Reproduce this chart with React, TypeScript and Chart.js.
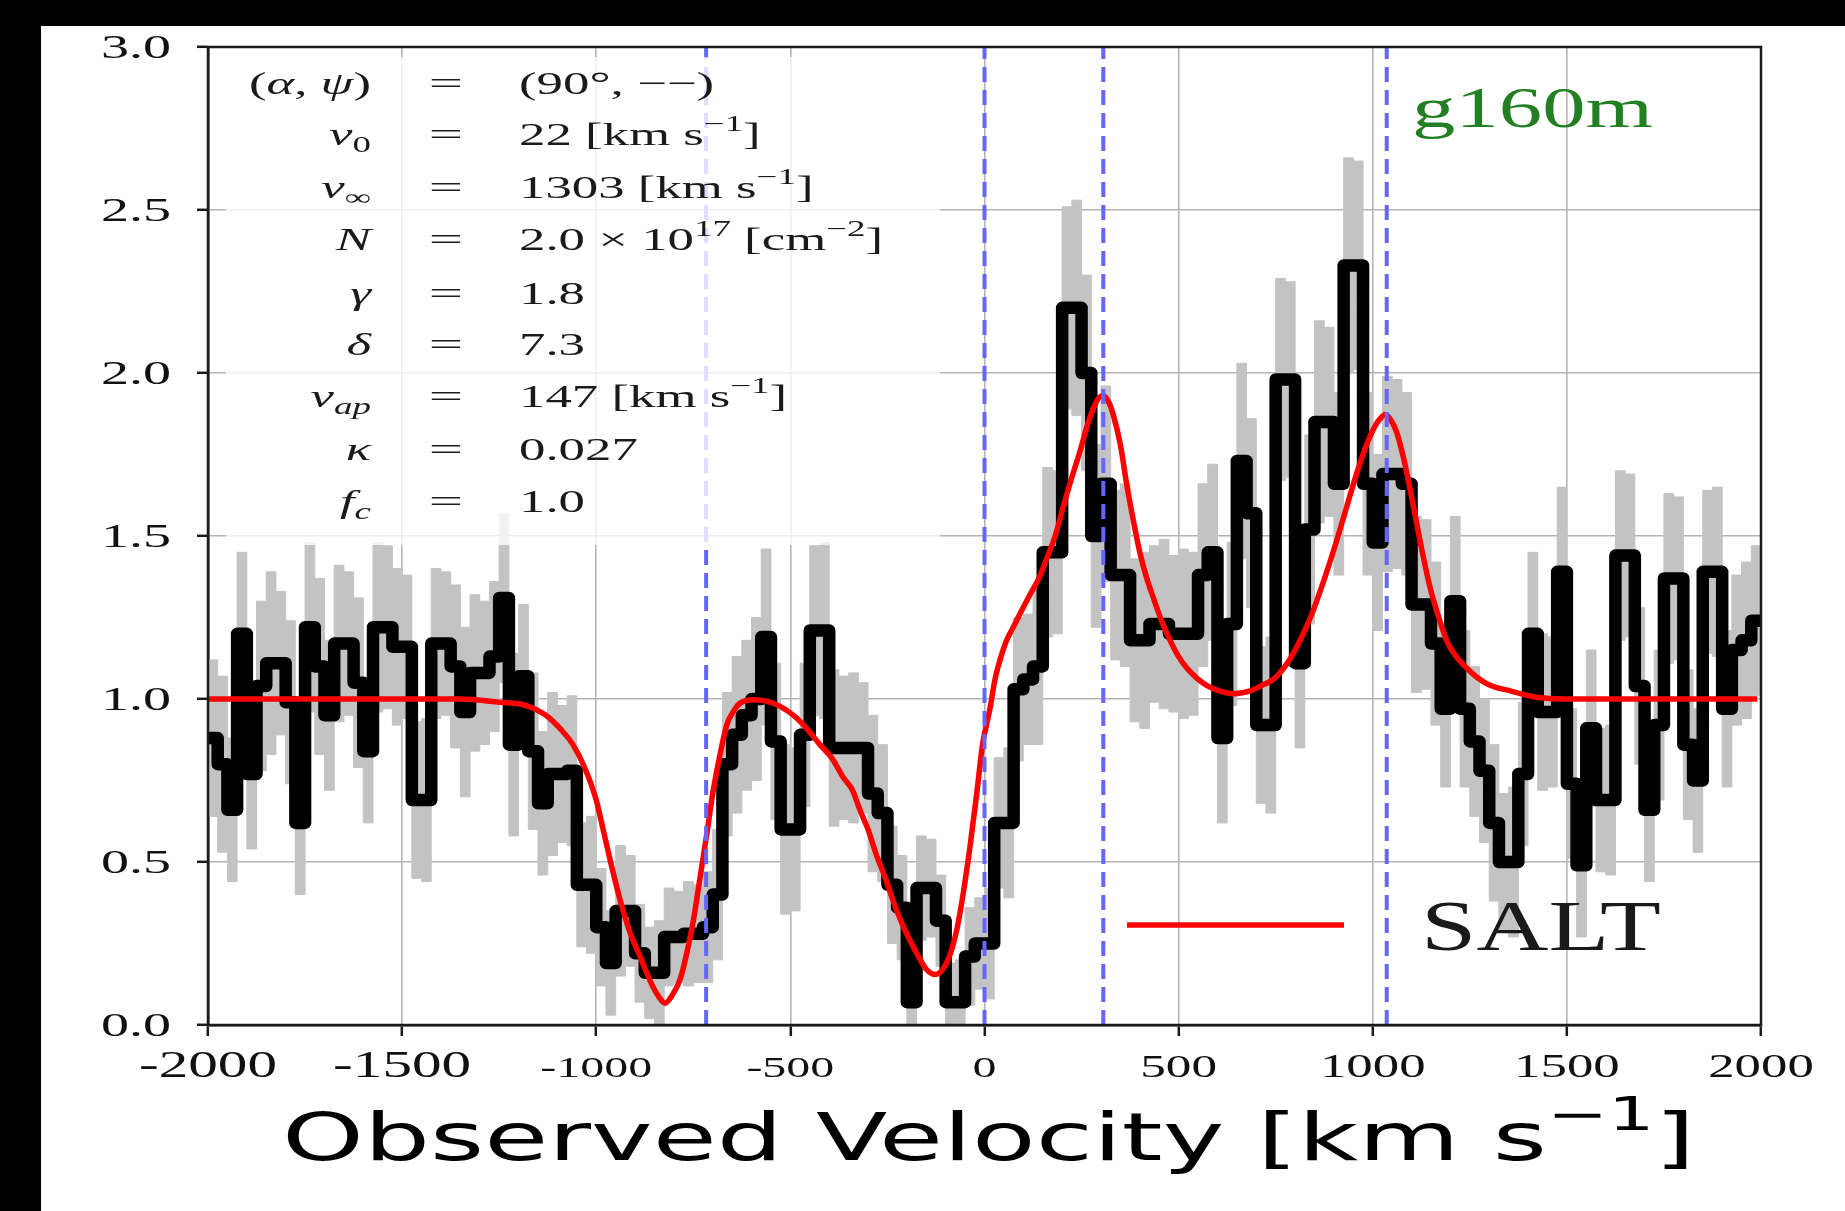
import React, { useEffect, useRef } from 'react';
import { Chart, registerables } from 'chart.js';

Chart.register(...registerables);

// ---------------- data ----------------
const BIN_START = -2000; // km/s, left edge of first bin
const BIN_WIDTH = 25; // km/s

// observed normalised flux per velocity bin (black step line)
const flux = [
  0.88, 0.80, 0.66, 1.20, 0.77, 1.04, 1.11, 1.11, 0.99, 0.62,
  1.22, 1.10, 0.95, 1.17, 1.17, 1.05, 0.84, 1.22, 1.22, 1.16,
  1.16, 0.69, 0.69, 1.17, 1.17, 1.10, 0.96, 1.08, 1.08, 1.13,
  1.31, 0.86, 1.07, 0.84, 0.68, 0.77, 0.77, 0.78, 0.43, 0.43,
  0.30, 0.19, 0.35, 0.35, 0.22, 0.16, 0.16, 0.27, 0.27, 0.28,
  0.28, 0.30, 0.40, 0.80, 0.89, 0.95, 1.00, 1.19, 0.87, 0.60,
  0.60, 0.89, 1.21, 1.21, 0.85, 0.85, 0.85, 0.85, 0.71, 0.65,
  0.43, 0.36, 0.07, 0.42, 0.42, 0.32, 0.07, 0.07, 0.21, 0.25,
  0.25, 0.62, 0.62, 1.03, 1.06, 1.10, 1.45, 1.45, 2.20, 2.20,
  2.00, 1.50, 1.66, 1.38, 1.38, 1.18, 1.18, 1.23, 1.23, 1.20,
  1.20, 1.20, 1.38, 1.45, 0.88, 1.23, 1.73, 1.57, 0.92, 0.92,
  1.98, 1.98, 1.11, 1.52, 1.85, 1.85, 1.66, 2.33, 2.33, 1.66,
  1.48, 1.69, 1.69, 1.66, 1.29, 1.29, 1.17, 0.97, 1.30, 0.97,
  0.87, 0.78, 0.62, 0.50, 0.50, 0.77, 1.20, 0.96, 0.96, 1.39,
  0.74, 0.49, 0.91, 0.69, 0.69, 1.44, 1.44, 1.04, 0.66, 0.92,
  1.37, 1.37, 0.86, 0.75, 1.39, 1.39, 0.97, 1.15, 1.18, 1.24,
];

// 1-sigma flux uncertainty per bin (grey band)
const fluxErr = [
  0.24, 0.27, 0.22, 0.25, 0.23, 0.26, 0.28, 0.22, 0.25, 0.22,
  0.26, 0.27, 0.23, 0.24, 0.22, 0.26, 0.22, 0.26, 0.25, 0.24,
  0.22, 0.24, 0.25, 0.23, 0.22, 0.25, 0.26, 0.24, 0.22, 0.23,
  0.26, 0.28, 0.22, 0.24, 0.22, 0.25, 0.21, 0.23, 0.19, 0.21,
  0.18, 0.16, 0.20, 0.17, 0.15, 0.14, 0.16, 0.15, 0.14, 0.16,
  0.15, 0.17, 0.20, 0.22, 0.24, 0.23, 0.25, 0.27, 0.24, 0.26,
  0.25, 0.22, 0.26, 0.27, 0.24, 0.22, 0.23, 0.20, 0.24, 0.21,
  0.18, 0.16, 0.12, 0.16, 0.15, 0.14, 0.12, 0.13, 0.15, 0.14,
  0.17, 0.20, 0.23, 0.22, 0.20, 0.24, 0.26, 0.25, 0.31, 0.33,
  0.30, 0.28, 0.30, 0.26, 0.28, 0.25, 0.27, 0.24, 0.26, 0.24,
  0.26, 0.25, 0.28, 0.27, 0.26, 0.25, 0.30, 0.29, 0.24, 0.27,
  0.31, 0.30, 0.26, 0.29, 0.31, 0.29, 0.28, 0.33, 0.32, 0.28,
  0.27, 0.30, 0.29, 0.28, 0.27, 0.26, 0.25, 0.24, 0.26, 0.24,
  0.23, 0.22, 0.24, 0.21, 0.23, 0.22, 0.25, 0.24, 0.23, 0.26,
  0.23, 0.22, 0.24, 0.22, 0.23, 0.26, 0.25, 0.24, 0.22, 0.23,
  0.26, 0.25, 0.23, 0.22, 0.25, 0.26, 0.24, 0.23, 0.24, 0.23,
];

// SALT model profile (red curve)
const modelVelocity = [
  -2000, -1500, -1350, -1250, -1180, -1130, -1090, -1060, -1030, -1000,
  -990, -965, -940, -915, -887, -870, -853, -838, -823, -805,
  -784, -767, -750, -733, -716, -700, -681, -664, -645, -630,
  -595, -544, -492, -458, -424, -394, -364, -340, -321, -300,
  -278, -255, -235, -212, -192, -170, -149, -127, -108, -89,
  -70, -54, -37, -20, -5, 14, 27, 40, 57, 74,
  95, 117, 140, 160, 182, 203, 225, 246, 265, 280,
  295, 306, 320, 332, 350, 366, 383, 400, 418, 435,
  456, 478, 500, 521, 546, 572, 605, 641, 684, 720,
  744, 780, 813, 843, 873, 903, 933, 958, 984, 1005,
  1019, 1032, 1047, 1062, 1083, 1105, 1126, 1148, 1170, 1190,
  1215, 1242, 1270, 1302, 1354, 1414, 1500, 1990,
];
const modelFlux = [
  1.0, 1.0, 1.0, 0.99, 0.98, 0.95, 0.905, 0.86, 0.79, 0.69,
  0.64, 0.51, 0.39, 0.29, 0.21, 0.16, 0.115, 0.085, 0.067, 0.09,
  0.14, 0.22, 0.32, 0.45, 0.58, 0.71, 0.83, 0.92, 0.965, 0.987,
  0.998, 0.987, 0.95, 0.91, 0.86, 0.82, 0.76, 0.72, 0.66, 0.60,
  0.52, 0.45, 0.38, 0.31, 0.26, 0.21, 0.17, 0.155, 0.17, 0.215,
  0.30, 0.41, 0.55, 0.71, 0.86, 0.97, 1.06, 1.12, 1.18, 1.22,
  1.27, 1.32, 1.37, 1.43, 1.50, 1.59, 1.68, 1.76, 1.84, 1.89,
  1.925, 1.93, 1.91, 1.87, 1.78, 1.66, 1.55, 1.45, 1.37, 1.31,
  1.24, 1.18, 1.13, 1.095, 1.065, 1.042, 1.025, 1.016, 1.025, 1.045,
  1.06, 1.11, 1.18, 1.26, 1.36, 1.47, 1.59, 1.69, 1.78, 1.835,
  1.86, 1.873, 1.855, 1.817, 1.72, 1.59, 1.46, 1.34, 1.25, 1.18,
  1.13, 1.095, 1.065, 1.042, 1.025, 1.007, 1.0, 1.0,
];

// dashed blue reference velocities
const markerVelocities = [-717, 0, 306, 1036];

const xTicks = [-2000, -1500, -1000, -500, 0, 500, 1000, 1500, 2000];
const xTickLabels = ['-2000', '-1500', '-1000', '-500', '0', '500', '1000', '1500', '2000'];
const yTicks = [0, 0.5, 1.0, 1.5, 2.0, 2.5, 3.0];
const yTickLabels = ['0.0', '0.5', '1.0', '1.5', '2.0', '2.5', '3.0'];

type Seg = [string, string];
const paramNames: Seg[][] = [
  [['(', 'r'], ['α', 'i'], [', ', 'r'], ['ψ', 'i'], [')', 'r']],
  [['v', 'i'], ['0', 'sub']],
  [['v', 'i'], ['∞', 'sub']],
  [['N', 'i']],
  [['γ', 'i']],
  [['δ', 'i']],
  [['v', 'i'], ['ap', 'subi']],
  [['κ', 'i']],
  [['f', 'i'], ['c', 'subi']],
];
const paramValues: Seg[][] = [
  [['(90°, −−)', 'r']],
  [['22 [km s', 'r'], ['−1', 'sup'], [']', 'r']],
  [['1303 [km s', 'r'], ['−1', 'sup'], [']', 'r']],
  [['2.0 × 10', 'r'], ['17', 'sup'], [' [cm', 'r'], ['−2', 'sup'], [']', 'r']],
  [['1.8', 'r']],
  [['7.3', 'r']],
  [['147 [km s', 'r'], ['−1', 'sup'], [']', 'r']],
  [['0.027', 'r']],
  [['1.0', 'r']],
];
const xTitle: Seg[] = [['Observed Velocity [km s', 'r'], ['−1', 'sup'], [']', 'r']];
const panelLabel = 'g160m';
const legendLabel = 'SALT';

// ---------------- drawing helpers ----------------
function segFont(style: string, size: number, family: string) {
  const small = style === 'sup' || style === 'sub' || style === 'subi';
  const s = small ? size * 0.7 : size;
  const italic = style === 'i' || style === 'subi';
  return `${italic ? 'italic ' : ''}${s}px ${family}`;
}
function segDy(style: string, size: number) {
  if (style === 'sup') return -0.45 * size;
  if (style === 'sub' || style === 'subi') return 0.22 * size;
  return 0;
}
function richWidth(ctx: CanvasRenderingContext2D, segs: Seg[], size: number, family: string) {
  let w = 0;
  for (const [t, st] of segs) {
    ctx.font = segFont(st, size, family);
    w += ctx.measureText(t).width;
  }
  return w;
}
function drawRich(
  ctx: CanvasRenderingContext2D,
  segs: Seg[],
  x: number,
  baseline: number,
  size: number,
  family: string,
  sx: number,
  align: 'left' | 'right' | 'center',
  color: string,
) {
  const w = richWidth(ctx, segs, size, family) * sx;
  let start = x;
  if (align === 'right') start = x - w;
  if (align === 'center') start = x - w / 2;
  ctx.save();
  ctx.translate(start, baseline);
  ctx.scale(sx, 1);
  ctx.fillStyle = color;
  ctx.textAlign = 'left';
  ctx.textBaseline = 'alphabetic';
  let cx = 0;
  for (const [t, st] of segs) {
    ctx.font = segFont(st, size, family);
    ctx.fillText(t, cx, segDy(st, size));
    cx += ctx.measureText(t).width;
  }
  ctx.restore();
}
function drawFitted(
  ctx: CanvasRenderingContext2D,
  segs: Seg[],
  left: number,
  baseline: number,
  size: number,
  family: string,
  targetWidth: number,
  color: string,
) {
  const w = richWidth(ctx, segs, size, family);
  drawRich(ctx, segs, left, baseline, size, family, targetWidth / w, 'left', color);
}

const SERIF = '"Liberation Serif", "DejaVu Serif", serif';
const SANS = '"DejaVu Sans", sans-serif';

const decorPlugin = {
  id: 'decor',
  beforeDraw(chart: any) {
    const ctx = chart.ctx as CanvasRenderingContext2D;
    ctx.save();
    ctx.fillStyle = '#ffffff';
    ctx.fillRect(0, 0, chart.width, chart.height);
    ctx.fillStyle = '#000000';
    ctx.fillRect(0, 0, 41, chart.height);
    ctx.fillRect(0, 0, chart.width, 26);
    ctx.restore();
  },
  afterDraw(chart: any) {
    const ctx = chart.ctx as CanvasRenderingContext2D;
    const a = chart.chartArea;
    const xs = chart.scales.x;
    const ys = chart.scales.y;

    // semi-transparent parameter box
    ctx.save();
    ctx.fillStyle = 'rgba(255,255,255,0.78)';
    ctx.fillRect(226, a.top + 10, 940 - 226, 545 - a.top - 10);
    ctx.restore();

    // parameter table
    const baselines = [94, 145, 198, 250, 304, 355, 407, 460, 512];
    const sxBox = 1.65;
    paramNames.forEach((segs, i) => {
      drawRich(ctx, segs, 371, baselines[i], 32, SERIF, sxBox, 'right', '#1a1a1a');
      drawRich(ctx, [['=', 'r']], 446, baselines[i], 32, SERIF, 1.9, 'center', '#1a1a1a');
      drawRich(ctx, paramValues[i], 519, baselines[i], 32, SERIF, sxBox, 'left', '#1a1a1a');
    });

    // frame
    ctx.save();
    ctx.strokeStyle = '#1a1a1a';
    ctx.lineWidth = 2.5;
    ctx.strokeRect(a.left, a.top, a.right - a.left, a.bottom - a.top);
    ctx.restore();

    // panel label
    drawFitted(ctx, [[panelLabel, 'r']], 1412, 127, 56, SERIF, 241, '#237f23');

    // legend
    ctx.save();
    ctx.strokeStyle = '#ff0000';
    ctx.lineWidth = 5.5;
    ctx.beginPath();
    ctx.moveTo(1127, 925);
    ctx.lineTo(1344, 925);
    ctx.stroke();
    ctx.restore();
    drawFitted(ctx, [[legendLabel, 'r']], 1421, 950, 72, SERIF, 240, '#1a1a1a');

    // tick labels (positions from the library's scales)
    const xSizes = [37, 37, 30, 30, 30, 32, 33, 33, 33];
    xs.ticks.forEach((t: any, i: number) => {
      const px = xs.getPixelForValue(t.value);
      drawRich(ctx, [[xTickLabels[i], 'r']], px, 1077, xSizes[i], SERIF, 1.6, 'center', '#111');
    });
    ys.ticks.forEach((t: any, i: number) => {
      const py = ys.getPixelForValue(t.value);
      drawRich(ctx, [[yTickLabels[i], 'r']], 171, py + 11, 33, SERIF, 1.7, 'right', '#111');
    });

    // axis title
    drawFitted(ctx, xTitle, 282, 1160, 66, SANS, 1413, '#000');
  },
};

// ---------------- chart ----------------
export default function App() {
  const canvasRef = useRef<HTMLCanvasElement>(null);

  useEffect(() => {
    const canvas = canvasRef.current;
    if (!canvas) return;

    const edges = flux.map((_, i) => BIN_START + i * BIN_WIDTH).concat([BIN_START + flux.length * BIN_WIDTH]);
    const stepPoints = (vals: number[]) =>
      edges.map((x, i) => ({ x, y: vals[Math.min(i, vals.length - 1)] }));
    const lower = flux.map((f, i) => f - fluxErr[i]);
    const upper = flux.map((f, i) => f + fluxErr[i]);

    const datasets: any[] = [
      {
        label: 'lower',
        data: stepPoints(lower),
        stepped: 'before',
        borderColor: '#c3c3c3',
        borderWidth: 1,
        pointRadius: 0,
        fill: false,
        order: 10,
      },
      {
        label: 'upper',
        data: stepPoints(upper),
        stepped: 'before',
        borderColor: '#c3c3c3',
        borderWidth: 1,
        backgroundColor: '#c3c3c3',
        pointRadius: 0,
        fill: '-1',
        order: 9,
      },
      {
        label: 'data',
        data: stepPoints(flux),
        stepped: 'before',
        borderColor: '#000000',
        borderWidth: 12.5,
        borderJoinStyle: 'round',
        borderCapStyle: 'round',
        pointRadius: 0,
        fill: false,
        order: 5,
      },
      {
        label: 'SALT',
        data: modelVelocity.map((v, i) => ({ x: v, y: modelFlux[i] })),
        borderColor: '#ff0000',
        borderWidth: 5.5,
        cubicInterpolationMode: 'monotone',
        tension: 0.4,
        pointRadius: 0,
        fill: false,
        order: 3,
      },
      ...markerVelocities.map((v) => ({
        label: 'marker',
        data: [
          { x: v, y: 0 },
          { x: v, y: 3 },
        ],
        borderColor: '#6666ff',
        borderWidth: 4,
        borderDash: [15, 8],
        pointRadius: 0,
        fill: false,
        order: 1,
      })),
    ];

    const chart = new Chart(canvas, {
      type: 'line',
      data: { datasets },
      options: {
        responsive: false,
        animation: false,
        devicePixelRatio: 1,
        events: [],
        layout: { padding: { left: 0, right: 84, top: 47, bottom: 0 } },
        plugins: { legend: { display: false }, tooltip: { enabled: false } },
        scales: {
          x: {
            type: 'linear',
            min: -2000,
            max: 2000,
            afterBuildTicks: (s: any) => {
              s.ticks = xTicks.map((v) => ({ value: v }));
            },
            afterFit: (s: any) => {
              s.height = 186;
            },
            ticks: { display: false },
            grid: {
              color: '#b4b4b4',
              lineWidth: 1.6,
              drawTicks: true,
              tickLength: 11,
              tickWidth: 2.5,
              tickColor: '#1a1a1a',
            },
            border: { display: true, color: '#1a1a1a', width: 2.5 },
          },
          y: {
            type: 'linear',
            min: 0,
            max: 3,
            afterBuildTicks: (s: any) => {
              s.ticks = yTicks.map((v) => ({ value: v }));
            },
            afterFit: (s: any) => {
              s.width = 208;
            },
            ticks: { display: false },
            grid: {
              color: '#b4b4b4',
              lineWidth: 1.6,
              drawTicks: true,
              tickLength: 11,
              tickWidth: 2.5,
              tickColor: '#1a1a1a',
            },
            border: { display: true, color: '#1a1a1a', width: 2.5 },
          },
        },
      },
      plugins: [decorPlugin],
    } as any);

    return () => chart.destroy();
  }, []);

  return (
    <div style={{ position: 'absolute', left: 0, top: 0, width: 1845, height: 1211 }}>
      <canvas ref={canvasRef} width={1845} height={1211} style={{ display: 'block', width: 1845, height: 1211 }} />
    </div>
  );
}
